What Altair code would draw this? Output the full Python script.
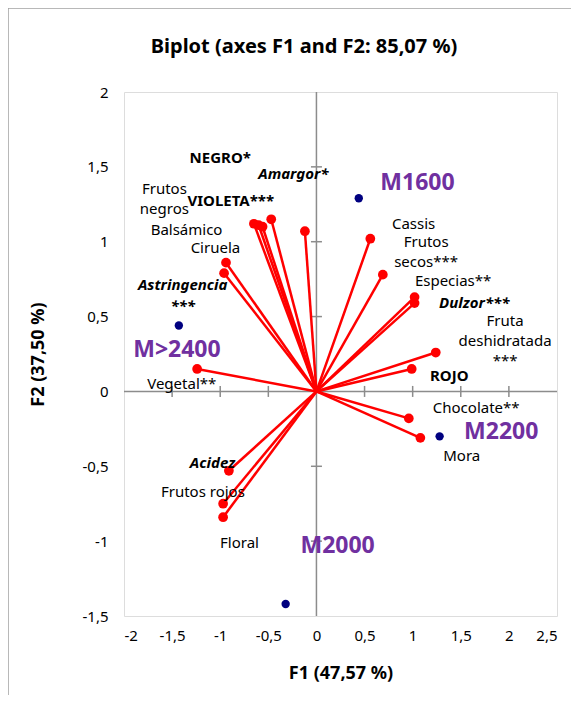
import altair as alt
import pandas as pd

# ---- variables (red vectors) ----
var_names = ["Cassis", "Frutos secos***", "Especias**", "Dulzor***", "Fruta deshidratada***",
             "ROJO", "Chocolate**", "Mora", "Amargor*", "NEGRO*", "VIOLETA***", "Frutos negros",
             "Balsámico", "Ciruela", "Astringencia***", "Vegetal**", "Acidez", "Frutos rojos", "Floral"]
var_f1 = [0.56, 0.69, 1.02, 1.02, 1.24, 0.99, 0.96, 1.08, -0.12, -0.47, -0.65, -0.60,
          -0.56, -0.94, -0.96, -1.24, -0.91, -0.97, -0.97]
var_f2 = [1.02, 0.78, 0.63, 0.59, 0.26, 0.15, -0.18, -0.31, 1.07, 1.15, 1.12, 1.11,
          1.10, 0.86, 0.79, 0.15, -0.53, -0.75, -0.84]

# ---- observations (navy points) ----
obs_names = ["M1600", "M>2400", "M2200", "M2000"]
obs_f1 = [0.44, -1.43, 1.28, -0.32]
obs_f2 = [1.29, 0.44, -0.30, -1.42]

# ---- labels (data-unit positions; multi-line labels use first line) ----
reg_text = ["Frutos\nnegros", "Balsámico", "Ciruela", "Vegetal**", "Cassis", "Frutos\nsecos***",
            "Especias**", "Fruta\ndeshidratada\n***", "Chocolate**", "Mora", "Frutos rojos", "Floral"]
reg_x = [-1.58, -1.35, -1.05, -1.40, 1.01, 1.14, 1.42, 1.96, 1.66, 1.51, -1.18, -0.80]
reg_y = [1.35, 1.08, 0.96, 0.05, 1.12, 1.00, 0.74, 0.47, -0.11, -0.43, -0.67, -1.01]

bold_text = ["NEGRO*", "VIOLETA***", "ROJO"]
bold_x = [-1.00, -0.89, 1.38]
bold_y = [1.56, 1.27, 0.10]

bi_text = ["Amargor*", "Astringencia\n***", "Dulzor***", "Acidez"]
bi_x = [-0.24, -1.39, 1.64, -1.08]
bi_y = [1.45, 0.71, 0.59, -0.48]

obs_lab_x = [1.05, -1.45, 1.92, 0.22]
obs_lab_y = [1.39, 0.28, -0.27, -1.03]

x_ticks = [-2, -1.5, -1, -0.5, 0, 0.5, 1, 1.5, 2, 2.5]
y_ticks = [-1.5, -1, -0.5, 0, 0.5, 1, 1.5, 2]
x_inner = [-1.5, -1, -0.5, 0.5, 1, 1.5, 2]
y_inner = [-1, -0.5, 0.5, 1, 1.5]

TITLE = "Biplot (axes F1 and F2: 85,07 %)"

FONT = "Noto Sans"
W, H = 433, 524
PAD = {"left": 116, "top": 84, "right": 14, "bottom": 79}

xs = alt.Scale(domain=[-2, 2.5], nice=False, zero=False)
ys = alt.Scale(domain=[-1.5, 2], nice=False, zero=False)

lab_expr = "replace(toString(datum.value), '.', ',')"
xaxis = alt.Axis(values=x_ticks, labelExpr=lab_expr, domain=False, ticks=False, grid=False,
                 labelPadding=12, labelFontSize=15, labelFont=FONT, labelColor="#000",
                 title="F1 (47,57 %)", titleFont=FONT, titleFontSize=18, titleFontWeight="bold",
                 titleColor="#000", titlePadding=21)
yaxis = alt.Axis(values=y_ticks, labelExpr=lab_expr, domain=False, ticks=False, grid=False,
                 labelPadding=16, labelFontSize=15, labelFont=FONT, labelColor="#000",
                 title="F2 (37,50 %)", titleFont=FONT, titleFontSize=18, titleFontWeight="bold",
                 titleColor="#000", titlePadding=34)


def X(f):
    return alt.X(f, type="quantitative", scale=xs, axis=xaxis)


def Y(f):
    return alt.Y(f, type="quantitative", scale=ys, axis=yaxis)


vars_df = pd.DataFrame({"name": var_names, "f1": var_f1, "f2": var_f2, "o": 0.0})
obs_df = pd.DataFrame({"name": obs_names, "f1": obs_f1, "f2": obs_f2,
                       "lx": obs_lab_x, "ly": obs_lab_y})
reg_df = pd.DataFrame({"t": reg_text, "x": reg_x, "y": reg_y})
bold_df = pd.DataFrame({"t": bold_text, "x": bold_x, "y": bold_y})
bi_df = pd.DataFrame({"t": bi_text, "x": bi_x, "y": bi_y})
zero_df = pd.DataFrame({"v": [0.0], "title": [TITLE]})

vline = alt.Chart(zero_df).mark_rule(color="#8c8c8c", strokeWidth=1.5).encode(x=X("v"))
hline = alt.Chart(zero_df).mark_rule(color="#8c8c8c", strokeWidth=1.5).encode(y=Y("v"))

xt_df = pd.DataFrame({"v": x_inner, "z": 0.0})
yt_df = pd.DataFrame({"v": y_inner, "z": 0.0})
xticks_m = alt.Chart(xt_df).mark_tick(orient="vertical", size=11, thickness=1.5,
                                      color="#8c8c8c", opacity=1).encode(x=X("v"), y=Y("z"))
yticks_m = alt.Chart(yt_df).mark_tick(orient="horizontal", size=11, thickness=1.5,
                                      color="#8c8c8c", opacity=1).encode(x=X("z"), y=Y("v"))

# outer chart border (top + left)
frame_top = alt.Chart(zero_df).mark_rule(color="#a0a0a0", strokeWidth=1.5, clip=False).encode(
    x=alt.value(-PAD["left"]), x2=alt.value(W + PAD["right"] + 20), y=alt.value(-PAD["top"]))
frame_left = alt.Chart(zero_df).mark_rule(color="#a0a0a0", strokeWidth=1.5, clip=False).encode(
    x=alt.value(-PAD["left"]), y=alt.value(-PAD["top"]), y2=alt.value(H + PAD["bottom"] + 20))

title_m = alt.Chart(zero_df).mark_text(font=FONT, fontSize=20, fontWeight="bold", color="#000",
                                       align="center", baseline="middle").encode(
    x=alt.value(180), y=alt.value(-45), text="title:N")

vectors = alt.Chart(vars_df).mark_rule(color="#FF0000", strokeWidth=2.5).encode(
    x=X("o"), y=Y("o"), x2="f1", y2="f2")
tips = alt.Chart(vars_df).mark_point(filled=True, color="#FF0000", size=95, opacity=1).encode(
    x=X("f1"), y=Y("f2"))
obs_pts = alt.Chart(obs_df).mark_point(filled=True, color="#000080", size=70, opacity=1).encode(
    x=X("f1"), y=Y("f2"))

reg_lab = alt.Chart(reg_df).mark_text(font=FONT, fontSize=15, color="#000", lineBreak="\n",
                                      lineHeight=20, align="center", baseline="middle").encode(
    x=X("x"), y=Y("y"), text="t:N")
bold_lab = alt.Chart(bold_df).mark_text(font=FONT, fontSize=15, fontWeight="bold", color="#000",
                                        align="center", baseline="middle").encode(
    x=X("x"), y=Y("y"), text="t:N")
bi_lab = alt.Chart(bi_df).mark_text(font=FONT, fontSize=15, fontWeight="bold", fontStyle="italic",
                                    color="#000", lineBreak="\n", lineHeight=21,
                                    align="center", baseline="middle").encode(
    x=X("x"), y=Y("y"), text="t:N")
obs_lab = alt.Chart(obs_df).mark_text(font=FONT, fontSize=23, fontWeight="bold", color="#7030A0",
                                      align="center", baseline="middle").encode(
    x=X("lx"), y=Y("ly"), text="name:N")

chart = alt.layer(
    vline, hline, xticks_m, yticks_m, frame_top, frame_left, title_m,
    vectors, tips, obs_pts, reg_lab, bold_lab, bi_lab, obs_lab
).properties(
    width=W, height=H,
    autosize=alt.AutoSizeParams(type="none"),
    padding=PAD,
).configure_view(stroke="#8c8c8c", strokeWidth=1.5).configure(background="white")

chart.save("out.html", embed_options={"renderer": "svg", "actions": False})
